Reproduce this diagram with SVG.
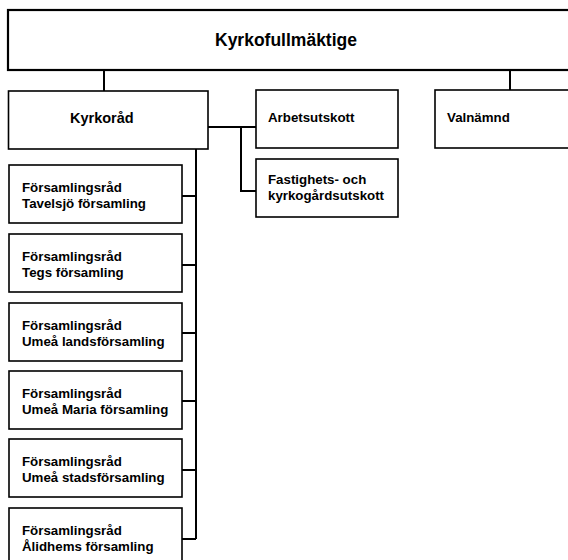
<svg xmlns="http://www.w3.org/2000/svg" width="568" height="560" viewBox="0 0 568 560">
<style>
.box{fill:#fff;stroke:#000;stroke-width:1.6}
.top{fill:#fff;stroke:#000;stroke-width:2.2}
.con{fill:none;stroke:#000;stroke-width:2}
text{font-family:"Liberation Sans",Arial,sans-serif;font-weight:bold;fill:#000;font-size:13.3px}
</style>
<rect width="568" height="560" fill="#fff"/>
<g id="connectors">
<path class="con" d="M104 70V91"/>
<path class="con" d="M510 70V90"/>
<path class="con" d="M208 127H256M241 127V191H256"/>
<path class="con" d="M196 149V539M182 196H196M182 265H196M182 333H196M182 401H196M182 470H196M182 539H196"/>
</g>
<g id="kyrkofullmaktige">
<rect class="top" x="8" y="10" width="570" height="60"/>
<text x="286" y="45.5" text-anchor="middle" style="font-size:17.5px">Kyrkofullmäktige</text>
</g>
<g id="kyrkorad">
<rect class="box" x="8.5" y="91" width="199.5" height="58"/>
<text x="70" y="123.3" style="font-size:14.5px">Kyrkoråd</text>
</g>
<g id="arbetsutskott">
<rect class="box" x="256" y="90" width="142" height="58"/>
<text x="268" y="122">Arbetsutskott</text>
</g>
<g id="fastighetsutskott">
<rect class="box" x="256" y="159" width="142" height="58"/>
<text x="268" y="184.3">Fastighets- och</text>
<text x="268" y="199.5">kyrkogårdsutskott</text>
</g>
<g id="valnamnd">
<rect class="box" x="435" y="90" width="140" height="58"/>
<text x="447" y="122">Valnämnd</text>
</g>
<g id="fr-tavelsjo">
<rect class="box" x="9" y="165" width="173" height="58"/>
<text x="22" y="192">Församlingsråd</text>
<text x="22" y="207.5">Tavelsjö församling</text>
</g>
<g id="fr-tegs">
<rect class="box" x="9" y="234" width="173" height="58"/>
<text x="22" y="261">Församlingsråd</text>
<text x="22" y="276.5">Tegs församling</text>
</g>
<g id="fr-umea-lands">
<rect class="box" x="9" y="303" width="173" height="58"/>
<text x="22" y="330">Församlingsråd</text>
<text x="22" y="345.5">Umeå landsförsamling</text>
</g>
<g id="fr-umea-maria">
<rect class="box" x="9" y="371" width="173" height="58"/>
<text x="22" y="398">Församlingsråd</text>
<text x="22" y="413.5">Umeå Maria församling</text>
</g>
<g id="fr-umea-stads">
<rect class="box" x="9" y="439" width="173" height="58"/>
<text x="22" y="466">Församlingsråd</text>
<text x="22" y="481.5">Umeå stadsförsamling</text>
</g>
<g id="fr-alidhems">
<rect class="box" x="9" y="508" width="173" height="58"/>
<text x="22" y="535">Församlingsråd</text>
<text x="22" y="550.5">Ålidhems församling</text>
</g>
</svg>
